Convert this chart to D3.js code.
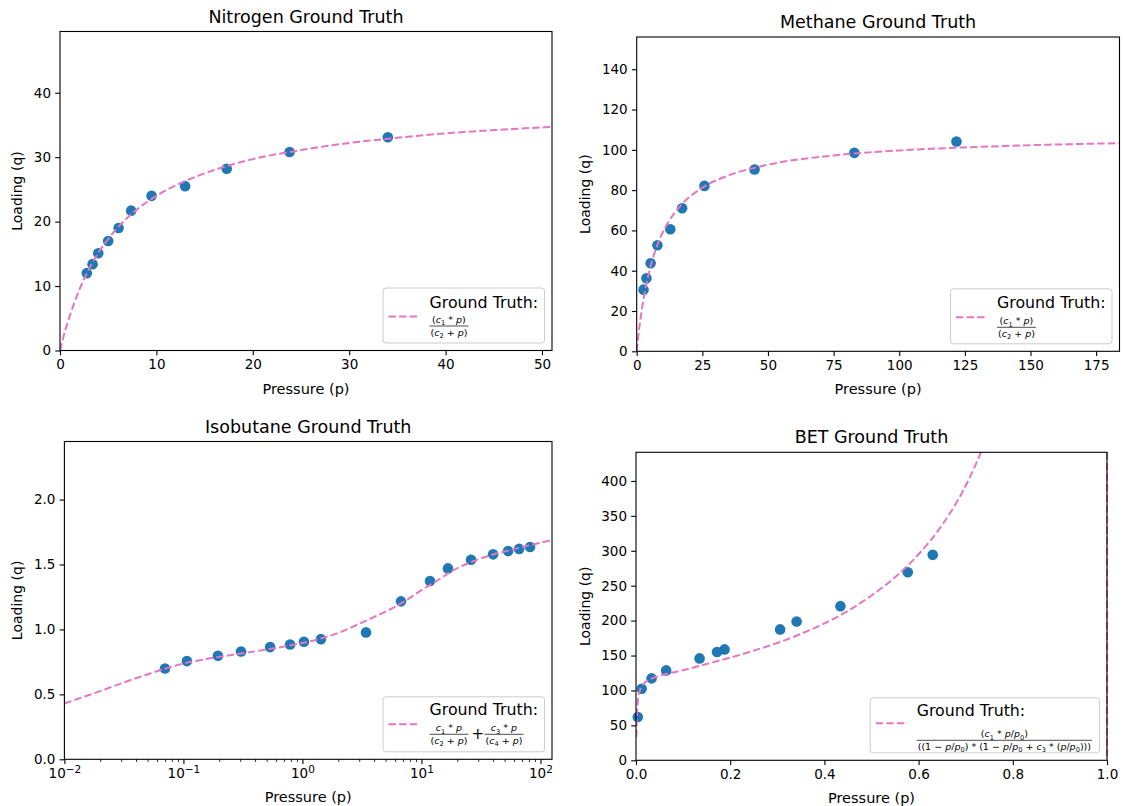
<!DOCTYPE html>
<html>
<head>
<meta charset="utf-8">
<script src="https://cdn.jsdelivr.net/npm/d3@7"></script>
<style>
  body { margin: 0; background: #fff; }
  svg text { font-family: "DejaVu Sans", sans-serif; fill: #000; white-space: pre; }
</style>
</head>
<body>
<svg id="chart" width="1123" height="806"></svg>
<script>
// ---- data ----
const n2Pressure = [2.78, 3.38, 3.97, 5.0, 6.08, 7.38, 9.5, 12.98, 17.29, 23.82, 34.01];
const n2Loading = [12.0, 13.4, 15.1, 17.0, 19.0, 21.7, 24.0, 25.5, 28.2, 30.8, 33.1];
const n2CurveP = [0, 0.5, 1, 2, 3, 4, 5, 6, 8, 10, 13, 16, 20, 25, 30, 35, 40, 45, 51.1];
const n2CurveQ = [0, 2.9, 5.3, 9.4, 12.6, 15.2, 17.3, 19.1, 21.9, 24.0, 26.3, 28.0, 29.7, 31.1, 32.2, 33.0, 33.7, 34.2, 34.7];

const ch4Pressure = [2.6, 3.7, 5.3, 7.9, 12.8, 17.3, 25.8, 44.9, 82.9, 121.8];
const ch4Loading = [30.6, 36.2, 43.7, 52.6, 60.6, 71.0, 82.1, 90.2, 98.5, 104.1];
const ch4CurveP = [0, 1, 2, 3, 5, 8, 12, 17, 25, 35, 50, 75, 100, 125, 150, 184];
const ch4CurveQ = [0, 11.7, 21.1, 28.8, 40.8, 53.2, 64.0, 72.7, 81.2, 87.3, 92.6, 97.2, 99.7, 101.2, 102.3, 103.3];

const isoPressure = [0.070, 0.107, 0.195, 0.305, 0.535, 0.787, 1.03, 1.43, 3.42, 6.73, 11.8, 16.7, 26.1, 40.0, 53.5, 66.2, 81.8];
const isoLoading = [0.699, 0.756, 0.797, 0.83, 0.864, 0.884, 0.905, 0.925, 0.977, 1.216, 1.373, 1.47, 1.537, 1.578, 1.604, 1.62, 1.635];
const isoCurveP = [0.01, 0.015, 0.02, 0.03, 0.045, 0.0715, 0.1026, 0.155, 0.259, 0.522, 0.84, 1.37, 2.12, 3.19, 4.81, 6.76, 9.7, 13.0, 18.5, 27.2, 39.4, 54.9, 82.8, 125];
const isoCurveQ = [0.43, 0.485, 0.525, 0.585, 0.64, 0.70, 0.74, 0.772, 0.805, 0.848, 0.882, 0.925, 0.982, 1.055, 1.13, 1.2, 1.295, 1.365, 1.455, 1.525, 1.575, 1.61, 1.65, 1.688];

const betPressure = [0.0038, 0.012, 0.033, 0.064, 0.135, 0.172, 0.188, 0.306, 0.341, 0.434, 0.577, 0.63];
const betLoading = [62.0, 102.5, 117.3, 128.7, 145.9, 155.0, 158.8, 187.4, 198.8, 220.7, 269.3, 294.2];
const betCurveP = [0.0006, 0.001, 0.002, 0.004, 0.007, 0.01, 0.02, 0.03, 0.05, 0.1, 0.15, 0.2, 0.25, 0.3, 0.35, 0.4, 0.45, 0.5, 0.55, 0.6, 0.65, 0.7, 0.74];
const betCurveQ = [33, 46, 66, 85, 97, 103, 112, 116, 121, 129, 138, 147, 157, 168, 181, 196, 214, 236, 262, 295, 337, 393, 453];
const betAsymptote = [1.0];

const n2XTicks = [0, 10, 20, 30, 40, 50], n2YTicks = [0, 10, 20, 30, 40];
const ch4XTicks = [0, 25, 50, 75, 100, 125, 150, 175], ch4YTicks = [0, 20, 40, 60, 80, 100, 120, 140];
const isoXTicks = [0.01, 0.1, 1, 10, 100], isoYTicks = [0, 0.5, 1.0, 1.5, 2.0];
const betXTicks = [0, 0.2, 0.4, 0.6, 0.8, 1.0], betYTicks = [0, 50, 100, 150, 200, 250, 300, 350, 400];

const BLUE = "#1f77b4", PINK = "#e377c2";
const svg = d3.select("#chart");

// math-ish text: parts are [string, kind] with kind "i" italic, "s" subscript
function addMath(text, parts, fs) {
  let shift = 0;
  parts.forEach(([s, k]) => {
    const t = text.append("tspan").text(s);
    const target = k === "s" ? fs * 0.25 : 0;
    if (target !== shift) { t.attr("dy", target - shift); shift = target; }
    if (k === "i") t.attr("font-style", "italic");
    if (k === "s") t.attr("font-size", fs * 0.7);
  });
}

function fraction(g, x0, barY, num, den, fs) {
  const n = g.append("text").attr("font-size", fs);
  addMath(n, num, fs);
  const d = g.append("text").attr("font-size", fs);
  addMath(d, den, fs);
  const wn = n.node().getComputedTextLength(), wd = d.node().getComputedTextLength();
  const w = Math.max(wn, wd) + 2;
  n.attr("x", x0 + (w - wn) / 2).attr("y", barY - 3);
  d.attr("x", x0 + (w - wd) / 2).attr("y", barY + fs * 1.0);
  g.append("line").attr("x1", x0).attr("x2", x0 + w).attr("y1", barY).attr("y2", barY)
    .attr("stroke", "#000").attr("stroke-width", 0.7);
  return w;
}

const C = (i) => [["c", "i"], [String(i), "s"]];
const P0 = [["p", "i"], ["/"], ["p", "i"], ["0", "s"]];
const langNum = [["("], ...C(1), [" * "], ["p", "i"], [")"]];
const langDen = (i) => [["("], ...C(i), [" + "], ["p", "i"], [")"]];

function panel(cfg) {
  const { box, x, y } = cfg;
  const g = svg.append("g");
  const id = "clip" + cfg.key;
  g.append("clipPath").attr("id", id).append("rect")
    .attr("x", box.l).attr("y", box.t).attr("width", box.r - box.l).attr("height", box.b - box.t);

  // title and labels
  g.append("text").attr("x", (box.l + box.r) / 2).attr("y", box.t - 9)
    .attr("text-anchor", "middle").attr("font-size", 17.5).text(cfg.title);
  g.append("text").attr("x", (box.l + box.r) / 2).attr("y", box.b + 43)
    .attr("text-anchor", "middle").attr("font-size", 14.5).text("Pressure (p)");
  g.append("text").attr("transform", `translate(${box.l - cfg.yLabelOff},${(box.t + box.b) / 2}) rotate(-90)`)
    .attr("text-anchor", "middle").attr("font-size", 14).text("Loading (q)");

  g.selectAll("circle.pt").data(cfg.px.map((p, i) => [p, cfg.py[i]])).join("circle")
    .attr("class", "pt")
    .attr("cx", d => x(d[0])).attr("cy", d => y(d[1])).attr("r", 5.3).attr("fill", BLUE);

  const plot = g.append("g").attr("clip-path", `url(#${id})`);
  const line = d3.line().x(d => x(d[0])).y(d => y(d[1])).curve(d3.curveMonotoneX);
  plot.append("path").datum(cfg.cx.map((p, i) => [p, cfg.cy[i]]))
    .attr("d", line).attr("fill", "none").attr("stroke", PINK)
    .attr("stroke-width", 2).attr("stroke-dasharray", "7.4,3.2");
  if (cfg.asym) {
    cfg.asym.forEach(a => {
      g.append("line").attr("x1", x(a)).attr("x2", x(a)).attr("y1", box.t).attr("y2", box.b)
        .attr("stroke", PINK).attr("stroke-width", 2).attr("stroke-dasharray", "7.4,3.2");
    });
  }

  // axes
  const xa = g.append("g").attr("transform", `translate(0,${box.b})`)
    .call(d3.axisBottom(x).tickValues(cfg.xTicks).tickSize(4.8).tickPadding(4.2).tickFormat(cfg.xFmt));
  const ya = g.append("g").attr("transform", `translate(${box.l},0)`)
    .call(d3.axisLeft(y).tickValues(cfg.yTicks).tickSize(4.8).tickPadding(4.2).tickFormat(cfg.yFmt));
  [xa, ya].forEach(a => {
    a.select(".domain").remove();
    a.selectAll("line").attr("stroke", "#000").attr("stroke-width", 1.1);
    a.selectAll("text").attr("font-size", 13.5).attr("font-family", "DejaVu Sans").attr("fill", "#000");
  });
  if (cfg.log) {
    xa.selectAll(".tick text").each(function (d) {
      const t = d3.select(this).text("");
      t.append("tspan").text("10");
      t.append("tspan").attr("dy", "-0.42em").attr("font-size", 10.5).text(String(Math.round(Math.log10(d))).replace("-", "\u2212"));
    });
    const minor = [];
    cfg.xTicks.forEach(t => { for (let k = 2; k <= 9; k++) if (t * k <= x.domain()[1]) minor.push(t * k); });
    const ma = g.append("g").attr("transform", `translate(0,${box.b})`)
      .call(d3.axisBottom(x).tickValues(minor).tickSize(2.7).tickFormat(""));
    ma.select(".domain").remove();
    ma.selectAll("line").attr("stroke", "#000").attr("stroke-width", 0.8);
  }

  g.append("rect").attr("x", box.l).attr("y", box.t).attr("width", box.r - box.l).attr("height", box.b - box.t)
    .attr("fill", "none").attr("stroke", "#000").attr("stroke-width", 1.1);

  // legend
  const L = cfg.leg;
  const lg = g.append("g");
  const bg = lg.append("rect").attr("rx", 3).attr("fill", "#fff").attr("fill-opacity", 0.8)
    .attr("stroke", "#cccccc").attr("stroke-width", 1);
  lg.append("line").attr("x1", 6).attr("x2", 36).attr("y1", L.dashY).attr("y2", L.dashY)
    .attr("stroke", PINK).attr("stroke-width", 2).attr("stroke-dasharray", "7.4,3.2");
  const gt = lg.append("text").attr("x", 47).attr("y", L.gtY).attr("font-size", 15.8).text("Ground Truth:");
  let mx = 47;
  cfg.math.forEach(m => {
    if (m === "+") {
      lg.append("text").attr("x", mx + 2).attr("y", L.barY + 5).attr("font-size", 15).text("+");
      mx += 15;
    } else {
      mx += fraction(lg, mx, L.barY, m[0], m[1], L.fs) + 1;
    }
  });
  const W = Math.max(47 + gt.node().getComputedTextLength(), mx) + 6;
  const H = 55;
  bg.attr("width", W).attr("height", H).attr("x", 0.5).attr("y", 0.5);
  lg.attr("transform", `translate(${box.r - 8 - W},${box.b - 8 - H})`);
}

panel({
  key: "n2", title: "Nitrogen Ground Truth",
  box: { l: 60, r: 552, t: 31.5, b: 350.5 },
  x: d3.scaleLinear().domain([0, 51.04]).range([60, 552]),
  y: d3.scaleLinear().domain([0, 49.5]).range([350.5, 31.5]),
  xTicks: n2XTicks, yTicks: n2YTicks, xFmt: d3.format("d"), yFmt: d3.format("d"),
  px: n2Pressure, py: n2Loading, cx: n2CurveP, cy: n2CurveQ, yLabelOff: 38,
  leg: { gtY: 20, dashY: 29, barY: 38.5, fs: 9.5 },
  math: [[langNum, langDen(2)]]
});

panel({
  key: "ch4", title: "Methane Ground Truth",
  box: { l: 636.7, r: 1119.5, t: 37, b: 351.3 },
  x: d3.scaleLinear().domain([0, 183.9]).range([636.7, 1119.5]),
  y: d3.scaleLinear().domain([0, 156]).range([351.3, 37]),
  xTicks: ch4XTicks, yTicks: ch4YTicks, xFmt: d3.format("d"), yFmt: d3.format("d"),
  px: ch4Pressure, py: ch4Loading, cx: ch4CurveP, cy: ch4CurveQ, yLabelOff: 47,
  leg: { gtY: 20, dashY: 29, barY: 39, fs: 9.5 },
  math: [[langNum, langDen(2)]]
});

panel({
  key: "iso", title: "Isobutane Ground Truth", log: true,
  box: { l: 64.4, r: 552, t: 441.5, b: 759.3 },
  x: d3.scaleLog().domain([0.01, 125]).range([64.4, 552]),
  y: d3.scaleLinear().domain([0, 2.447]).range([759.3, 441.5]),
  xTicks: isoXTicks, yTicks: isoYTicks, xFmt: d => d, yFmt: d3.format(".1f"),
  px: isoPressure, py: isoLoading, cx: isoCurveP, cy: isoCurveQ, yLabelOff: 42,
  leg: { gtY: 19, dashY: 28, barY: 38, fs: 9.5 },
  math: [[[...C(1), [" * "], ["p", "i"]], langDen(2)], "+", [[...C(3), [" * "], ["p", "i"]], langDen(4)]]
});

panel({
  key: "bet", title: "BET Ground Truth",
  box: { l: 636, r: 1107, t: 452.3, b: 760.3 },
  x: d3.scaleLinear().domain([0, 1]).range([636, 1107]),
  y: d3.scaleLinear().domain([0, 441]).range([760.3, 452.3]),
  xTicks: betXTicks, yTicks: betYTicks, xFmt: d3.format(".1f"), yFmt: d3.format("d"),
  px: betPressure, py: betLoading, cx: betCurveP, cy: betCurveQ, yLabelOff: 46.5, asym: betAsymptote,
  leg: { gtY: 18.5, dashY: 26, barY: 43, fs: 9.5 },
  math: [[
    [["("], ...C(1), [" * "], ...P0, [")"]],
    [["((1 \u2212 "], ...P0, [") * (1 \u2212 "], ...P0, [" + "], ...C(3), [" * ("], ...P0, [")))"]]
  ]]
});
</script>
</body>
</html>
